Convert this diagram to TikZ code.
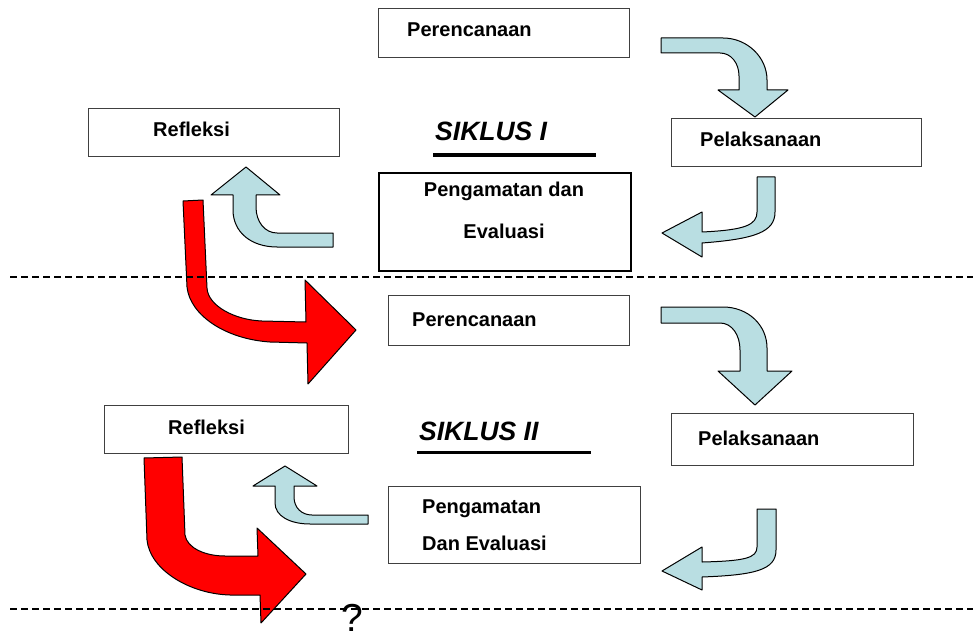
\documentclass[tikz,border=0pt]{standalone}
\usepackage{fontspec}
\setmainfont{Liberation Sans}

\definecolor{arrowblue}{RGB}{185,222,226}

\tikzset{
  box/.style={draw=black!75, line width=1.2pt, rectangle, anchor=north west, inner sep=0pt},
  boxtext/.style={font=\fontsize{20}{24}\selectfont\bfseries, anchor=base west, inner sep=0pt},
  cycletitle/.style={font=\fontsize{26.5}{30}\selectfont\bfseries\itshape, anchor=base west, inner sep=0pt},
  bluearrow/.style={fill=arrowblue, draw=black, line width=1pt, line join=round},
  redarrow/.style={fill=red, draw=black, line width=1pt, line join=round},
  divider/.style={line width=1.6pt, dash pattern=on 7pt off 4pt},
}

\begin{document}
\begin{tikzpicture}[x=1pt, y=-1pt]

    \path[use as bounding box, fill=white] (0,0) rectangle (973,636);

    % Boxes, cycle I
    \node[box, minimum width=251pt, minimum height=49pt] (ren1) at (378,8) {};
    \node[box, minimum width=251pt, minimum height=48pt] (ref1) at (88,108) {};
    \node[box, minimum width=250pt, minimum height=48pt] (pel1) at (671,118) {};
    \node[box, draw=black, line width=2pt, minimum width=252pt, minimum height=98pt] (pen1) at (378,172) {};

    % Boxes, cycle II
    \node[box, minimum width=241pt, minimum height=50pt] (ren2) at (388,295) {};
    \node[box, minimum width=244pt, minimum height=48pt] (ref2) at (104,405) {};
    \node[box, minimum width=242pt, minimum height=52pt] (pel2) at (671,413) {};
    \node[box, minimum width=252pt, minimum height=77pt] (pen2) at (388,486) {};

    % Texts
    \node[boxtext] (ren1txt) at (407,37) {Perencanaan};
    \node[boxtext] (ref1txt) at (153,137) {Refleksi};
    \node[boxtext] (pel1txt) at (700,147) {Pelaksanaan};
    \node[boxtext, align=center, anchor=base, font=\fontsize{20}{41.5}\selectfont\bfseries] (pen1txt) at (504,238) {Pengamatan dan\\Evaluasi};
    \node[boxtext] (ren2txt) at (412,326) {Perencanaan};
    \node[boxtext] (ref2txt) at (168,434) {Refleksi};
    \node[boxtext] (pel2txt) at (698,445) {Pelaksanaan};
    \node[boxtext, align=left, font=\fontsize{20}{37}\selectfont\bfseries] (pen2txt) at (422,550) {Pengamatan\\Dan Evaluasi};

    \node[cycletitle] (siklus1) at (435,141) {SIKLUS I};
    \node[cycletitle] (siklus2) at (419,440) {SIKLUS II};
    \draw[line width=4pt] (433,154.7) -- (596,154.7);
    \draw[line width=3.6pt] (417,452.5) -- (591,452.5);

    \node[font=\fontsize{39}{43}\selectfont, anchor=base, inner sep=0pt] (next) at (352,631) {?};

    % Arrows, cycle I
    \draw[bluearrow] (661,38) -- (723,38) .. controls (747,38) and (767,57) .. (767,80)
        -- (767,90) -- (788,90) -- (755,117) -- (718,90) -- (739,90) -- (739,76)
        .. controls (739,63) and (731,53) .. (720,53) -- (661,53) -- cycle;
    \draw[bluearrow] (757,177) -- (775,177) -- (775,212) .. controls (775,232) and (755,239) .. (702,243)
        -- (702,257) -- (662,233) -- (702,212) -- (702,232)
        .. controls (745,230) and (757,225) .. (757,212) -- cycle;
    \draw[bluearrow] (333,233) -- (333,247) -- (277,247) .. controls (251,247) and (233,232) .. (233,210)
        -- (233,195) -- (211,195) -- (246,167) -- (280,195) -- (256,195) -- (256,207)
        .. controls (256,222) and (265,233) .. (277,233) -- cycle;
    \draw[redarrow] (183,201) -- (203,200) -- (207,288) .. controls (208,306) and (235,320) .. (262,321)
        -- (306,322) -- (305,280) -- (356,330) -- (308,384) -- (307,343) -- (270,342)
        .. controls (225,339) and (190,315) .. (187,287) -- cycle;

    % Arrows, cycle II
    \draw[bluearrow] (661,307) -- (723,307) .. controls (748,307) and (767,325) .. (767,348)
        -- (767,371) -- (792,371) -- (755,405) -- (718,371) -- (740,371) -- (740,350)
        .. controls (740,335) and (732,323) .. (720,323) -- (661,323) -- cycle;
    \draw[bluearrow] (757,509) -- (776,509) -- (776,550) .. controls (776,570) and (755,575) .. (702,577)
        -- (702,590) -- (662,571) -- (702,547) -- (702,562)
        .. controls (745,561) and (757,558) .. (757,547) -- cycle;
    \draw[bluearrow] (368,515) -- (368,524) -- (310,524) .. controls (290,524) and (275,516) .. (275,503)
        -- (275,486) -- (253,486) -- (285,466) -- (317,486) -- (294,486) -- (294,497)
        .. controls (294,508) and (302,515) .. (312,515) -- cycle;
    \draw[redarrow] (144,458) -- (182,457) -- (185,535) .. controls (187,548) and (205,556) .. (225,556)
        -- (258,556) -- (257,528) -- (306,574) -- (261,623) -- (260,595) -- (230,595)
        .. controls (190,594) and (150,570) .. (147,540) -- cycle;

    % Dividers
    \draw[divider] (10,277) -- (973,277);
    \draw[divider] (10,609) -- (973,609);

\end{tikzpicture}
\end{document}
